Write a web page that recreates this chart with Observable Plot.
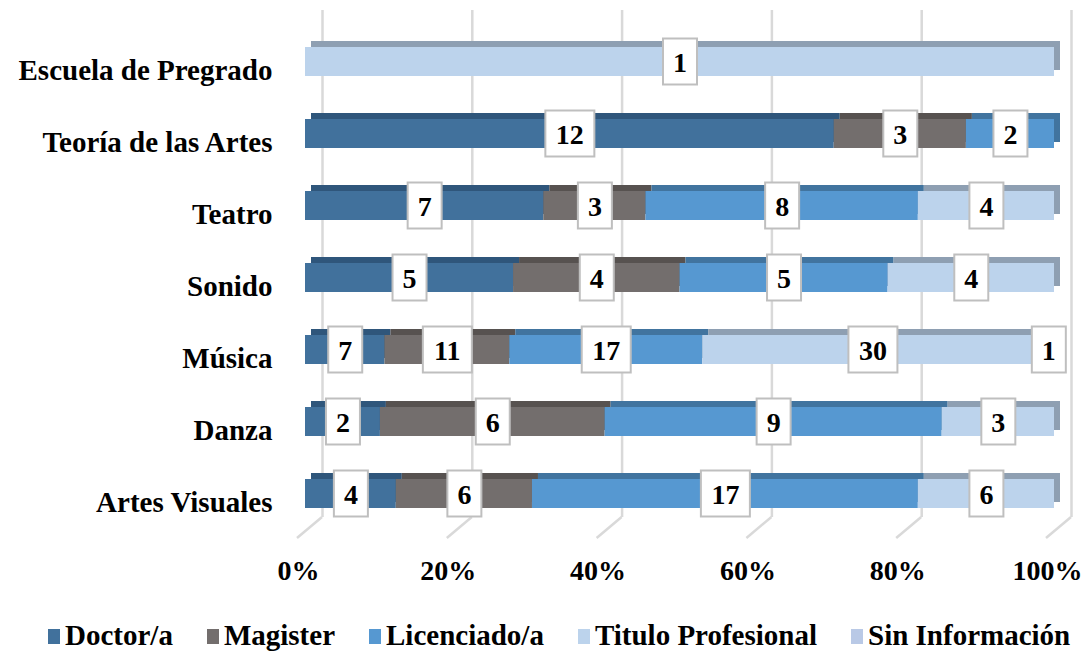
<!DOCTYPE html>
<html>
<head>
<meta charset="utf-8">
<script src="https://cdn.jsdelivr.net/npm/d3@7"></script>
<script src="https://cdn.jsdelivr.net/npm/@observablehq/plot@0.6"></script>
<style>
  html, body { margin: 0; padding: 0; background: #fff; }
  #chart svg { display: block; overflow: visible; }
  .legend { display: flex; align-items: center; margin-left: 48px; height: 70px;
    font-family: "Liberation Serif", "Times New Roman", serif; font-weight: bold; font-size: 29px; color: #000; white-space: nowrap; }
  .legend .item { display: flex; align-items: center; margin-right: 34px; }
  .legend .sw { width: 12px; height: 15px; margin-right: 5px; margin-top: 3px; }
</style>
</head>
<body>
<div id="chart"></div>
<script>
const categories = ["Escuela de Pregrado", "Teoría de las Artes", "Teatro", "Sonido", "Música", "Danza", "Artes Visuales"];
const series = ["Doctor/a", "Magister", "Licenciado/a", "Titulo Profesional", "Sin Información"];
const doctor     = [0, 12, 7, 5, 7, 2, 4];
const magister   = [0, 3, 3, 4, 11, 6, 6];
const licenciado = [0, 2, 8, 5, 17, 9, 17];
const titulo     = [1, 0, 4, 4, 30, 3, 6];
const sinInfo    = [0, 0, 0, 0, 1, 0, 0];
const xTicks = [0, 0.2, 0.4, 0.6, 0.8, 1];

const frontColors = ["#41719C", "#736E6D", "#5698D1", "#BCD3EC", "#B9C9E6"];
const topColors   = ["#2F567B", "#575250", "#41749F", "#8E9FB2", "#8B9AB4"];

const seriesValues = [doctor, magister, licenciado, titulo, sinInfo];
const rows = series.flatMap((s, si) =>
  categories.map((c, ci) => ({cat: c, series: s, si, value: seriesValues[si][ci]}))
).filter(d => d.value > 0);

const W = 1086, H = 600, MB = 60, MT = 10, GRID_BOTTOM_INSET = 23;
const gridColor = "#D9D9D9";
const serif = "Liberation Serif, Times New Roman, serif";

const floor = (index, scales, values, dimensions) => {
  const g = d3.create("svg:g");
  const yb = dimensions.height - dimensions.marginBottom - GRID_BOTTOM_INSET;
  for (const t of xTicks) {
    const x = scales.x(t);
    g.append("line").attr("x1", x + 17).attr("y1", yb).attr("x2", x - 8).attr("y2", yb + 21)
      .attr("stroke", gridColor).attr("stroke-width", 2.5);
  }
  return g.node();
};

const stk = (o) => Plot.stackX({x: "value", y: "cat", offset: "normalize", ...o});
const boxW = d => String(d.value).length > 1 ? 47 : 32;

const chart = Plot.plot({
  width: W, height: H,
  marginLeft: 305, marginRight: 32, marginTop: MT, marginBottom: MB,
  style: {fontFamily: serif, fontWeight: "bold", color: "#000", background: "#fff", overflow: "visible"},
  x: {domain: [0, 1], axis: null, label: null},
  y: {domain: categories, range: [25, 529], paddingInner: 0.6, paddingOuter: 0.3, axis: null, label: null},
  color: {type: "identity"},
  marks: [
    Plot.ruleX(xTicks, {stroke: gridColor, strokeWidth: 2.5, dx: 17, insetBottom: GRID_BOTTOM_INSET}),
    floor,
    Plot.barX(rows, stk({fill: d => topColors[d.si], dx: 6, dy: -6})),
    Plot.barX(rows, stk({fill: d => frontColors[d.si]})),
    Plot.tickX(rows, stk({stroke: "#BFBFBF", strokeWidth: d => boxW(d) + 4, insetTop: -9.6, insetBottom: -9.6})),
    Plot.tickX(rows, stk({stroke: "#FFFFFF", strokeWidth: boxW, insetTop: -7.6, insetBottom: -7.6})),
    Plot.text(rows, stk({text: d => String(d.value), fill: "#000", fontSize: 28, fontWeight: "bold", fontFamily: serif, dy: 1})),
    Plot.axisX({ticks: xTicks, tickFormat: d => Math.round(d * 100) + "%", tickSize: 0, tickPadding: 20,
      fontSize: 28, fontWeight: "bold", dx: -7, label: null}),
    Plot.axisY({tickSize: 0, tickPadding: 33, fontSize: 29, fontWeight: "bold", dy: 9, label: null})
  ]
});
document.getElementById("chart").appendChild(chart);

const legend = document.createElement("div");
legend.className = "legend";
series.forEach((s, i) => {
  const item = document.createElement("div");
  item.className = "item";
  const sw = document.createElement("span");
  sw.className = "sw";
  sw.style.background = frontColors[i];
  const label = document.createElement("span");
  label.textContent = s;
  item.appendChild(sw); item.appendChild(label);
  legend.appendChild(item);
});
document.getElementById("chart").appendChild(legend);
</script>
</body>
</html>
